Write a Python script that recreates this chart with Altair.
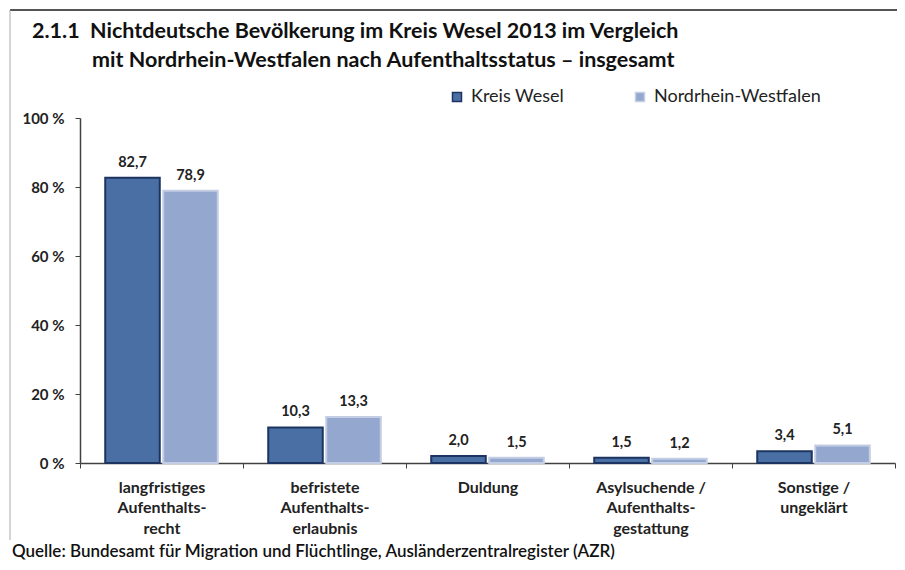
import altair as alt
import pandas as pd

categories = [
    "langfristiges|Aufenthalts-|recht",
    "befristete|Aufenthalts-|erlaubnis",
    "Duldung",
    "Asylsuchende /|Aufenthalts-|gestattung",
    "Sonstige /|ungeklärt",
]
series = ["Kreis Wesel", "Nordrhein-Westfalen"]
kreis_wesel = [82.7, 10.3, 2.0, 1.5, 3.4]
nrw = [78.9, 13.3, 1.5, 1.2, 5.1]
y_ticks = [0, 20, 40, 60, 80, 100]
title_number = "2.1.1"
title_line1 = "Nichtdeutsche Bevölkerung im Kreis Wesel 2013 im Vergleich"
title_line2 = "mit Nordrhein-Westfalen nach Aufenthaltsstatus – insgesamt"
source_text = "Quelle: Bundesamt für Migration und Flüchtlinge, Ausländerzentralregister (AZR)"

rows = []
for c, a, b in zip(categories, kreis_wesel, nrw):
    rows.append({"category": c, "series": series[0], "value": a})
    rows.append({"category": c, "series": series[1], "value": b})
df = pd.DataFrame(rows)

FONT = "Lato"
fills = ["#4a6fa5", "#94a8cf"]
strokes = ["#1d3461", "#c3cde3"]

x_enc = alt.X(
    "category:N",
    sort=categories,
    scale=alt.Scale(paddingInner=0, paddingOuter=0),
    axis=alt.Axis(
        title=None,
        labelExpr="split(datum.label, '|')",
        labelAngle=0,
        labelFont=FONT,
        labelFontSize=16,
        labelFontWeight="bold",
        labelColor="#222222",
        labelLineHeight=20.5,
        labelPadding=11,
        tickBand="extent",
        tickSize=5,
        tickColor="#404040",
        domainColor="#404040",
        domainWidth=1.5,
        grid=False,
    ),
)
xoff_enc = alt.XOffset(
    "series:N", sort=series, scale=alt.Scale(paddingInner=0.06, paddingOuter=0.435)
)
y_enc = alt.Y(
    "value:Q",
    scale=alt.Scale(domain=[0, 100], nice=False),
    axis=alt.Axis(
        title=None,
        values=y_ticks,
        labelExpr="datum.value + ' %'",
        labelFont=FONT,
        labelFontSize=15,
        labelFontWeight="bold",
        labelColor="#222222",
        labelPadding=11,
        tickSize=5,
        tickColor="#404040",
        domainColor="#404040",
        domainWidth=1.5,
        grid=False,
    ),
)

base = alt.Chart(df)

bars = base.mark_bar(strokeWidth=2).encode(
    x=x_enc,
    xOffset=xoff_enc,
    y=y_enc,
    color=alt.Color(
        "series:N",
        sort=series,
        scale=alt.Scale(domain=series, range=fills),
        legend=alt.Legend(
            title=None,
            orient="none",
            direction="horizontal",
            legendX=368,
            legendY=-30,
            symbolType="square",
            symbolSize=81,
            symbolStrokeWidth=1.5,
            labelFont=FONT,
            labelFontSize=18,
            labelColor="#222222",
            labelOffset=5,
            labelLimit=400,
            columnPadding=66,
        ),
    ),
    stroke=alt.Stroke(
        "series:N", sort=series, scale=alt.Scale(domain=series, range=strokes), legend=None
    ),
)

labels = (
    base.transform_calculate(label="replace(format(datum.value, '.1f'), '.', ',')")
    .mark_text(font=FONT, fontSize=14.5, fontWeight="bold", color="#222222", baseline="middle", dy=-15)
    .encode(x=x_enc, xOffset=xoff_enc, y=y_enc, text="label:N")
)

one = alt.Chart(pd.DataFrame({"k": [0]}))

TITLE_SIZE = 21.5
t_num = one.mark_text(font=FONT, fontSize=TITLE_SIZE, fontWeight="bold", color="#111111", align="left", baseline="middle").encode(
    x=alt.value(-48), y=alt.value(-86), text=alt.value(title_number)
)
t_l1 = one.mark_text(font=FONT, fontSize=TITLE_SIZE, fontWeight="bold", color="#111111", align="left", baseline="middle").encode(
    x=alt.value(10), y=alt.value(-86), text=alt.value(title_line1)
)
t_l2 = one.mark_text(font=FONT, fontSize=TITLE_SIZE, fontWeight="bold", color="#111111", align="left", baseline="middle").encode(
    x=alt.value(12), y=alt.value(-57), text=alt.value(title_line2)
)
t_src = one.mark_text(font=FONT, fontSize=17, fontWeight=600, color="#111111", align="left", baseline="middle").encode(
    x=alt.value(-68), y=alt.value(434), text=alt.value(source_text)
)
border_top = one.mark_rule(color="#555555", strokeWidth=2).encode(
    x=alt.value(-70), x2=alt.value(825), y=alt.value(-108)
)
border_left = one.mark_rule(color="#aaaaaa", strokeWidth=1).encode(
    x=alt.value(-70), y=alt.value(-108), y2=alt.value(422)
)

chart = (
    alt.layer(border_top, border_left, bars, labels, t_num, t_l1, t_l2, t_src)
    .properties(
        width=815,
        height=345,
        background="white",
        autosize=alt.AutoSizeParams(type="none"),
        padding={"left": 72, "top": 110, "right": 2, "bottom": 99},
    )
    .configure_view(stroke="transparent", strokeWidth=0)
)

chart.save("out.html", embed_options={"renderer": "svg", "actions": False})
